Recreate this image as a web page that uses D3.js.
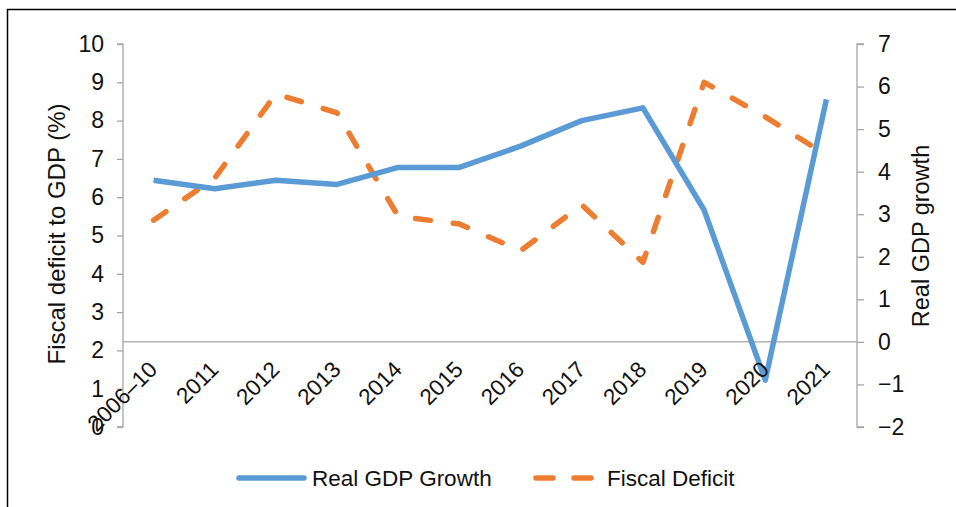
<!DOCTYPE html>
<html>
<head>
<meta charset="utf-8">
<script src="https://cdn.jsdelivr.net/npm/d3@7"></script>
<style>
  html, body { margin: 0; padding: 0; background: #fff; }
  svg { display: block; }
  text { font-family: "Liberation Sans", Arial, sans-serif; fill: #111; }
</style>
</head>
<body>
<svg id="chart" width="956" height="507"></svg>
<script>
// Categories and series
const years = ["2006–10", "2011", "2012", "2013", "2014", "2015", "2016", "2017", "2018", "2019", "2020", "2021"];
const gdpGrowth = [3.8, 3.6, 3.8, 3.7, 4.1, 4.1, 4.6, 5.2, 5.5, 3.1, -0.9, 5.7];
const fiscalDeficit = [5.4, 6.5, 8.7, 8.2, 5.5, 5.3, 4.6, 5.8, 4.3, 9.0, 8.1, 7.1];
const leftTicks = [0, 1, 2, 3, 4, 5, 6, 7, 8, 9, 10];
const rightTicks = [-2, -1, 0, 1, 2, 3, 4, 5, 6, 7];

const svg = d3.select("#chart");
const blue = "#5B9BD5", orange = "#ED7D31", axisGray = "#A6A6A6";

// Outer frame
svg.append("rect")
  .attr("x", 7.5).attr("y", 9.5)
  .attr("width", 1000).attr("height", 1000)
  .attr("fill", "none").attr("stroke", "#000").attr("stroke-width", 1.5);

const plot = { left: 123, right: 857, top: 44, bottom: 427 };

const x = d3.scaleBand().domain(years).range([plot.left, plot.right]);
const yL = d3.scaleLinear().domain([0, 10]).range([plot.bottom, plot.top]);
const yR = d3.scaleLinear().domain([-2, 7]).range([plot.bottom, plot.top]);
const cx = d => x(d) + x.bandwidth() / 2;

// Left axis
const gL = svg.append("g")
  .attr("transform", `translate(${plot.left},0)`)
  .call(d3.axisLeft(yL).tickValues(leftTicks).tickSize(6).tickPadding(13).tickFormat(d3.format("d")));
// Right axis
const gR = svg.append("g")
  .attr("transform", `translate(${plot.right},0)`)
  .call(d3.axisRight(yR).tickValues(rightTicks).tickSize(7).tickPadding(14)
    .tickFormat(d => d < 0 ? "\u2212" + Math.abs(d) : d));

[gL, gR].forEach(g => {
  g.select(".domain").attr("stroke", axisGray).attr("stroke-width", 1.3)
    .attr("d", g === gL
      ? `M-6,${plot.top}H0V${plot.bottom}H-6`
      : `M7,${plot.top}H0V${plot.bottom}H7`);
  g.selectAll(".tick line").attr("stroke", axisGray).attr("stroke-width", 1.3);
  g.selectAll(".tick text").attr("font-size", 23).style("fill", "#111")
    .attr("font-family", "Liberation Sans, Arial, sans-serif");
});

// Category axis line at zero growth
svg.append("line")
  .attr("x1", plot.left).attr("x2", plot.right)
  .attr("y1", yR(0)).attr("y2", yR(0))
  .attr("stroke", axisGray).attr("stroke-width", 1.3);

// Axis titles
svg.append("text")
  .attr("transform", `translate(65,234) rotate(-90)`)
  .attr("text-anchor", "middle").attr("font-size", 24)
  .text("Fiscal deficit to GDP (%)");
svg.append("text")
  .attr("transform", `translate(929,236) rotate(-90)`)
  .attr("text-anchor", "middle").attr("font-size", 23.5)
  .text("Real GDP growth");

// Series lines
const lineR = d3.line().x((d, i) => cx(years[i])).y(d => yR(d));
const lineL = d3.line().x((d, i) => cx(years[i])).y(d => yL(d));

svg.append("path").datum(fiscalDeficit)
  .attr("d", lineL).attr("fill", "none")
  .attr("stroke", orange).attr("stroke-width", 5.5)
  .attr("stroke-linecap", "round").attr("stroke-linejoin", "round")
  .attr("stroke-dasharray", "15,23");

svg.append("path").datum(gdpGrowth)
  .attr("d", lineR).attr("fill", "none")
  .attr("stroke", blue).attr("stroke-width", 5.5)
  .attr("stroke-linejoin", "round");

// Category labels, rotated, drawn above the series
svg.append("g").selectAll("text").data(years).join("text")
  .attr("transform", d => `translate(${cx(d) + 5},${yR(0) + 29}) rotate(-45)`)
  .attr("text-anchor", "end")
  .attr("font-size", 22.5)
  .text(d => d);

// Legend
const ly = 478;
const legend = svg.append("g");
legend.append("line")
  .attr("x1", 239).attr("x2", 304).attr("y1", ly).attr("y2", ly)
  .attr("stroke", blue).attr("stroke-width", 5.5).attr("stroke-linecap", "round");
legend.append("text")
  .attr("x", 312).attr("y", ly + 8).attr("font-size", 22.5)
  .text("Real GDP Growth");
legend.append("line")
  .attr("x1", 536).attr("x2", 595).attr("y1", ly).attr("y2", ly)
  .attr("stroke", orange).attr("stroke-width", 5.5).attr("stroke-linecap", "round")
  .attr("stroke-dasharray", "17,21");
legend.append("text")
  .attr("x", 607).attr("y", ly + 8).attr("font-size", 22.5)
  .text("Fiscal Deficit");
</script>
</body>
</html>
